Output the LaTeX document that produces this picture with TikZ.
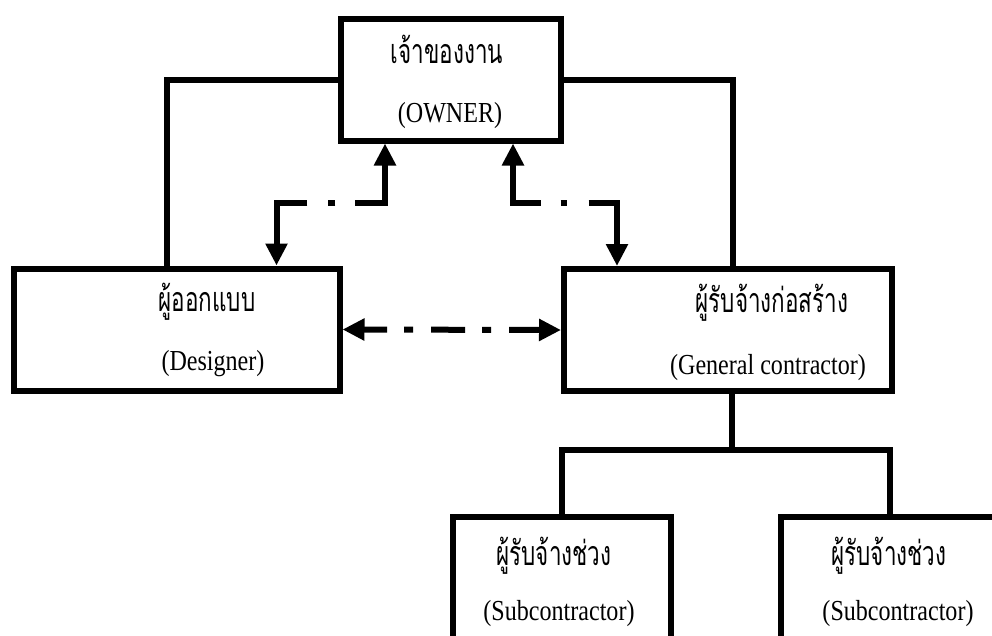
\documentclass[tikz,border=0pt]{standalone}
\usepackage{fontspec}
\setmainfont{Liberation Serif}[FakeStretch=0.83]
\newfontfamily\thaifont[Script=Thai,FakeStretch=0.66]{Loma}
\usetikzlibrary{arrows.meta}
\begin{document}
\begin{tikzpicture}[x=1pt,y=-1pt,
  box/.style={draw, line width=6pt, minimum height=122pt, inner sep=0pt},
  conn/.style={line width=6pt},
  darrow/.style={line width=6pt, {Triangle[length=22pt,width=21pt]}-{Triangle[length=22pt,width=21pt]}},
  th/.style={font=\thaifont\fontsize{34}{34}\selectfont, anchor=base, inner sep=0pt},
  en/.style={font=\fontsize{29}{29}\selectfont, anchor=base, inner sep=0pt}]
\useasboundingbox (0,0) rectangle (992,635);
\clip (0,0) rectangle (992,635);
% boxes
\node[box, minimum width=220pt] (owner) at (451,79.5) {};
\node[box, minimum width=326pt] (designer) at (176.5,329.5) {};
\node[box, minimum width=328pt] (gc) at (728,330) {};
\node[box, minimum width=218pt] (sub1) at (561.5,578) {};
\node[box, minimum width=218pt] (sub2) at (890,578) {};
% texts
\node[th] (ownerT) at (447,63) {เจ้าของงาน};
\node[en] (ownerE) at (450,122) {(OWNER)};
\node[th] (desT) at (207,311) {ผู้ออกแบบ};
\node[en] (desE) at (213,370) {(Designer)};
\node[th] (gcT) at (772,312) {ผู้รับจ้างก่อสร้าง};
\node[en] (gcE) at (768,374) {(General contractor)};
\node[th] (s1T) at (554,565) {ผู้รับจ้างช่วง};
\node[en] (s1E) at (559,620) {(Subcontractor)};
\node[th] (s2T) at (889,565) {ผู้รับจ้างช่วง};
\node[en] (s2E) at (898,620) {(Subcontractor)};
% solid connectors
\draw[conn] (owner.west) -| ([xshift=-9.5pt]designer.north);
\draw[conn] (owner.east) -| ([xshift=5pt]gc.north);
\draw[conn] ([xshift=4pt]gc.south) -- ++(0,56) coordinate (j);
\draw[conn] (sub1.north) |- (j) -| (sub2.north);
% dash-dot arrows
\draw[darrow, dash pattern=on 68pt off 20pt on 7pt off 21pt on 300pt]
  ([xshift=-66pt]owner.south) -- ++(0,59) -| ([xshift=100pt]designer.north);
\draw[darrow, dash pattern=on 66pt off 20pt on 6pt off 22pt on 300pt]
  ([xshift=62pt]owner.south) -- ++(0,59) -| ([xshift=-111pt]gc.north);
\draw[darrow, dash pattern=on 34pt off 17pt on 9pt off 18pt, dash phase=10pt]
  (designer.east) -- (gc.west);
\end{tikzpicture}
\end{document}
